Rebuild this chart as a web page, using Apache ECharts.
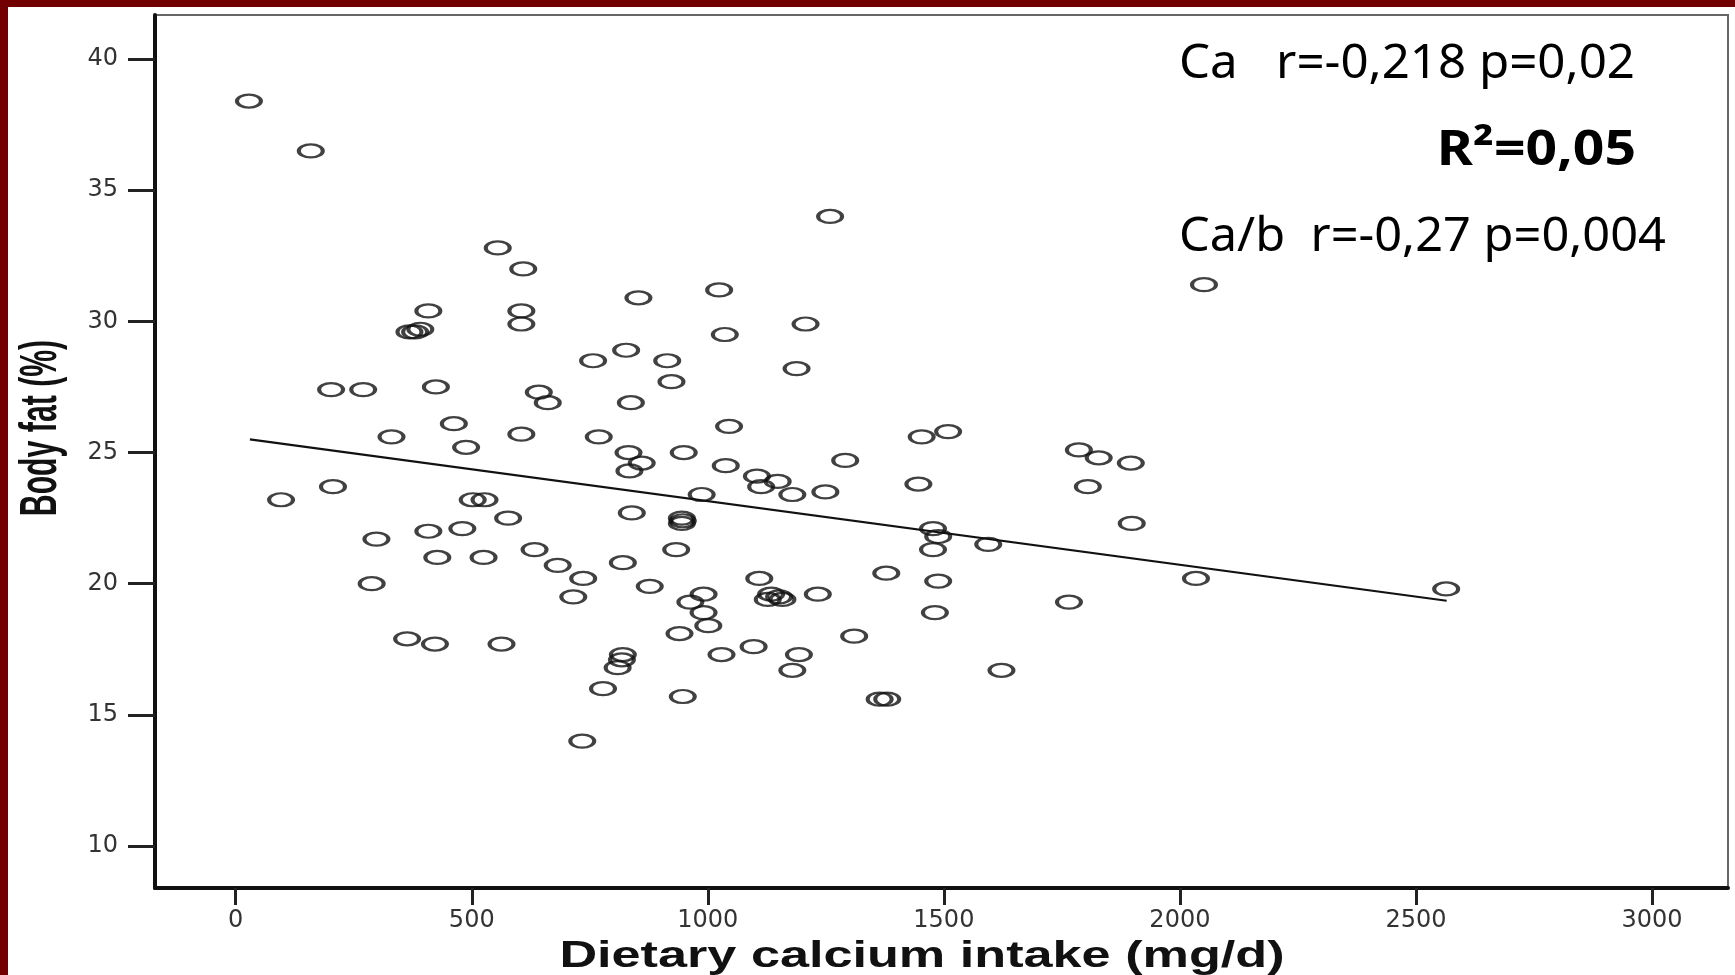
<!DOCTYPE html>
<html>
<head>
<meta charset="utf-8">
<title>Body fat vs dietary calcium</title>
<script src="https://cdn.jsdelivr.net/npm/echarts@6/dist/echarts.min.js"></script>
<style>
  html, body { margin: 0; padding: 0; background: #fff; }
  #chart { width: 1735px; height: 975px; }
</style>
</head>
<body>
<div id="chart"></div>
<script>
// dietary calcium intake (mg/d)
var calciumIntake = [
  28, 159, 1259, 555, 609, 2051, 1024, 853, 408, 605,
  605, 1207, 368, 391, 380, 1036, 827, 757, 914, 1188,
  923, 202, 270, 424, 642, 661, 837, 462, 1045, 330,
  605, 769, 1453, 1509, 488, 832, 949, 1786, 1828, 1896,
  860, 1038, 1291, 834, 1104, 1113, 1148, 1446, 1805, 206,
  96, 502, 527, 987, 1179, 1249, 839, 577, 945, 945,
  947, 1898, 1477, 1488, 408, 480, 298, 1594, 633, 933,
  1477, 427, 525, 682, 820, 736, 1109, 1378, 288, 877,
  1488, 2034, 2564, 1134, 1151, 1127, 1158, 991, 963, 1233,
  715, 1765, 991, 1481, 1001, 1310, 940, 363, 422, 563,
  1097, 820, 818, 1193, 1029, 809, 1179, 1622, 778, 947,
  1364, 1380, 734
];
// body fat (%), same order
var bodyFat = [
  38.4, 36.5, 34.0, 32.8, 32.0, 31.4, 31.2, 30.9, 30.4, 30.4,
  29.9, 29.9, 29.6, 29.7, 29.6, 29.5, 28.9, 28.5, 28.5, 28.2,
  27.7, 27.4, 27.4, 27.5, 27.3, 26.9, 26.9, 26.1, 26.0, 25.6,
  25.7, 25.6, 25.6, 25.8, 25.2, 25.0, 25.0, 25.1, 24.8, 24.6,
  24.6, 24.5, 24.7, 24.3, 24.1, 23.7, 23.9, 23.8, 23.7, 23.7,
  23.2, 23.2, 23.2, 23.4, 23.4, 23.5, 22.7, 22.5, 22.5, 22.3,
  22.4, 22.3, 22.1, 21.8, 22.0, 22.1, 21.7, 21.5, 21.3, 21.3,
  21.3, 21.0, 21.0, 20.7, 20.8, 20.2, 20.2, 20.4, 20.0, 19.9,
  20.1, 20.2, 19.8, 19.6, 19.5, 19.4, 19.4, 19.6, 19.3, 19.6,
  19.5, 19.3, 18.9, 18.9, 18.4, 18.0, 18.1, 17.9, 17.7, 17.7,
  17.6, 17.3, 17.1, 17.3, 17.3, 16.8, 16.7, 16.7, 16.0, 15.7,
  15.6, 15.6, 14.0
];
// fitted line as drawn (start and end)
var fitX = [30, 2565];
var fitY = [25.5, 19.35];

var xTicks = [0, 500, 1000, 1500, 2000, 2500, 3000];
var yTicks = [10, 15, 20, 25, 30, 35, 40];

var statLines = ['Ca   r=-0,218 p=0,02', 'R\u00b2=0,05', 'Ca/b  r=-0,27 p=0,004'];
var xTitle = 'Dietary calcium intake (mg/d)';
var yTitle = 'Body fat (%)';

var points = calciumIntake.map(function (x, i) { return [x, bodyFat[i]]; });
var fitLine = fitX.map(function (x, i) { return [x, fitY[i]]; });

var chart = echarts.init(document.getElementById('chart'));

// plain numbers, no thousands separator
var plain = function (v) { return String(v); };
var labelFont = { fontFamily: 'DejaVu Sans', fontSize: 24, color: '#333', formatter: plain };
var tickStyle = { color: '#222', width: 3 };

var option = {
  animation: false,
  backgroundColor: '#fff',
  grid: {
    left: 155, top: 15, width: 1573, height: 873,
    show: true, borderColor: '#666', borderWidth: 2, backgroundColor: '#fff'
  },
  xAxis: {
    type: 'value',
    min: -171, max: 3161,
    splitLine: { show: false },
    axisLine: { onZero: false, lineStyle: { color: '#111', width: 4 } },
    axisTick: { length: 17, lineStyle: tickStyle, customValues: xTicks },
    axisLabel: Object.assign({ margin: 21, customValues: xTicks }, labelFont)
  },
  yAxis: {
    type: 'value',
    min: 8.4, max: 41.68,
    splitLine: { show: false },
    axisLine: { onZero: false, lineStyle: { color: '#111', width: 4 } },
    axisTick: { length: 27, lineStyle: tickStyle, customValues: yTicks },
    axisLabel: Object.assign({ margin: 37, customValues: yTicks }, labelFont)
  },
  series: [
    {
      type: 'scatter',
      data: points,
      symbol: 'path://M0,10 A10,10 0 1,1 20,10 A10,10 0 1,1 0,10 Z',
      symbolSize: [24, 13],
      itemStyle: { color: 'rgba(0,0,0,0)', borderColor: '#111', borderWidth: 3 },
      z: 3
    },
    {
      type: 'line',
      data: fitLine,
      symbol: 'none',
      lineStyle: { color: '#111', width: 2.2 },
      z: 2
    }
  ],
  graphic: [
    // slide frame
    { type: 'rect', shape: { x: 0, y: 0, width: 8, height: 975 }, style: { fill: '#730000' } },
    { type: 'rect', shape: { x: 0, y: 0, width: 1735, height: 7 }, style: { fill: '#730000' } },
    // stats
    { type: 'text', x: 1179, y: 64, scaleX: 1.025,
      style: { text: statLines[0], font: '48px "Noto Sans"', fill: '#000', textAlign: 'left', textVerticalAlign: 'middle' } },
    { type: 'text', x: 1636, y: 151, scaleX: 1.15,
      style: { text: statLines[1], font: 'bold 48px "Noto Sans"', fill: '#000', textAlign: 'right', textVerticalAlign: 'middle' } },
    { type: 'text', x: 1179, y: 237, scaleX: 1.015,
      style: { text: statLines[2], font: '48px "Noto Sans"', fill: '#000', textAlign: 'left', textVerticalAlign: 'middle' } },
    // axis titles
    { type: 'text', x: 922, y: 957, scaleX: 1.45,
      style: { text: xTitle, font: 'bold 36px "Liberation Sans"', fill: '#111', textAlign: 'center', textVerticalAlign: 'middle' } },
    { type: 'text', x: 42, y: 428, rotation: Math.PI / 2, scaleX: 1.08, scaleY: 1.85,
      style: { text: yTitle, font: 'bold 28px "Liberation Sans"', fill: '#111', textAlign: 'center', textVerticalAlign: 'middle' } }
  ]
};

chart.setOption(option);
</script>
</body>
</html>
